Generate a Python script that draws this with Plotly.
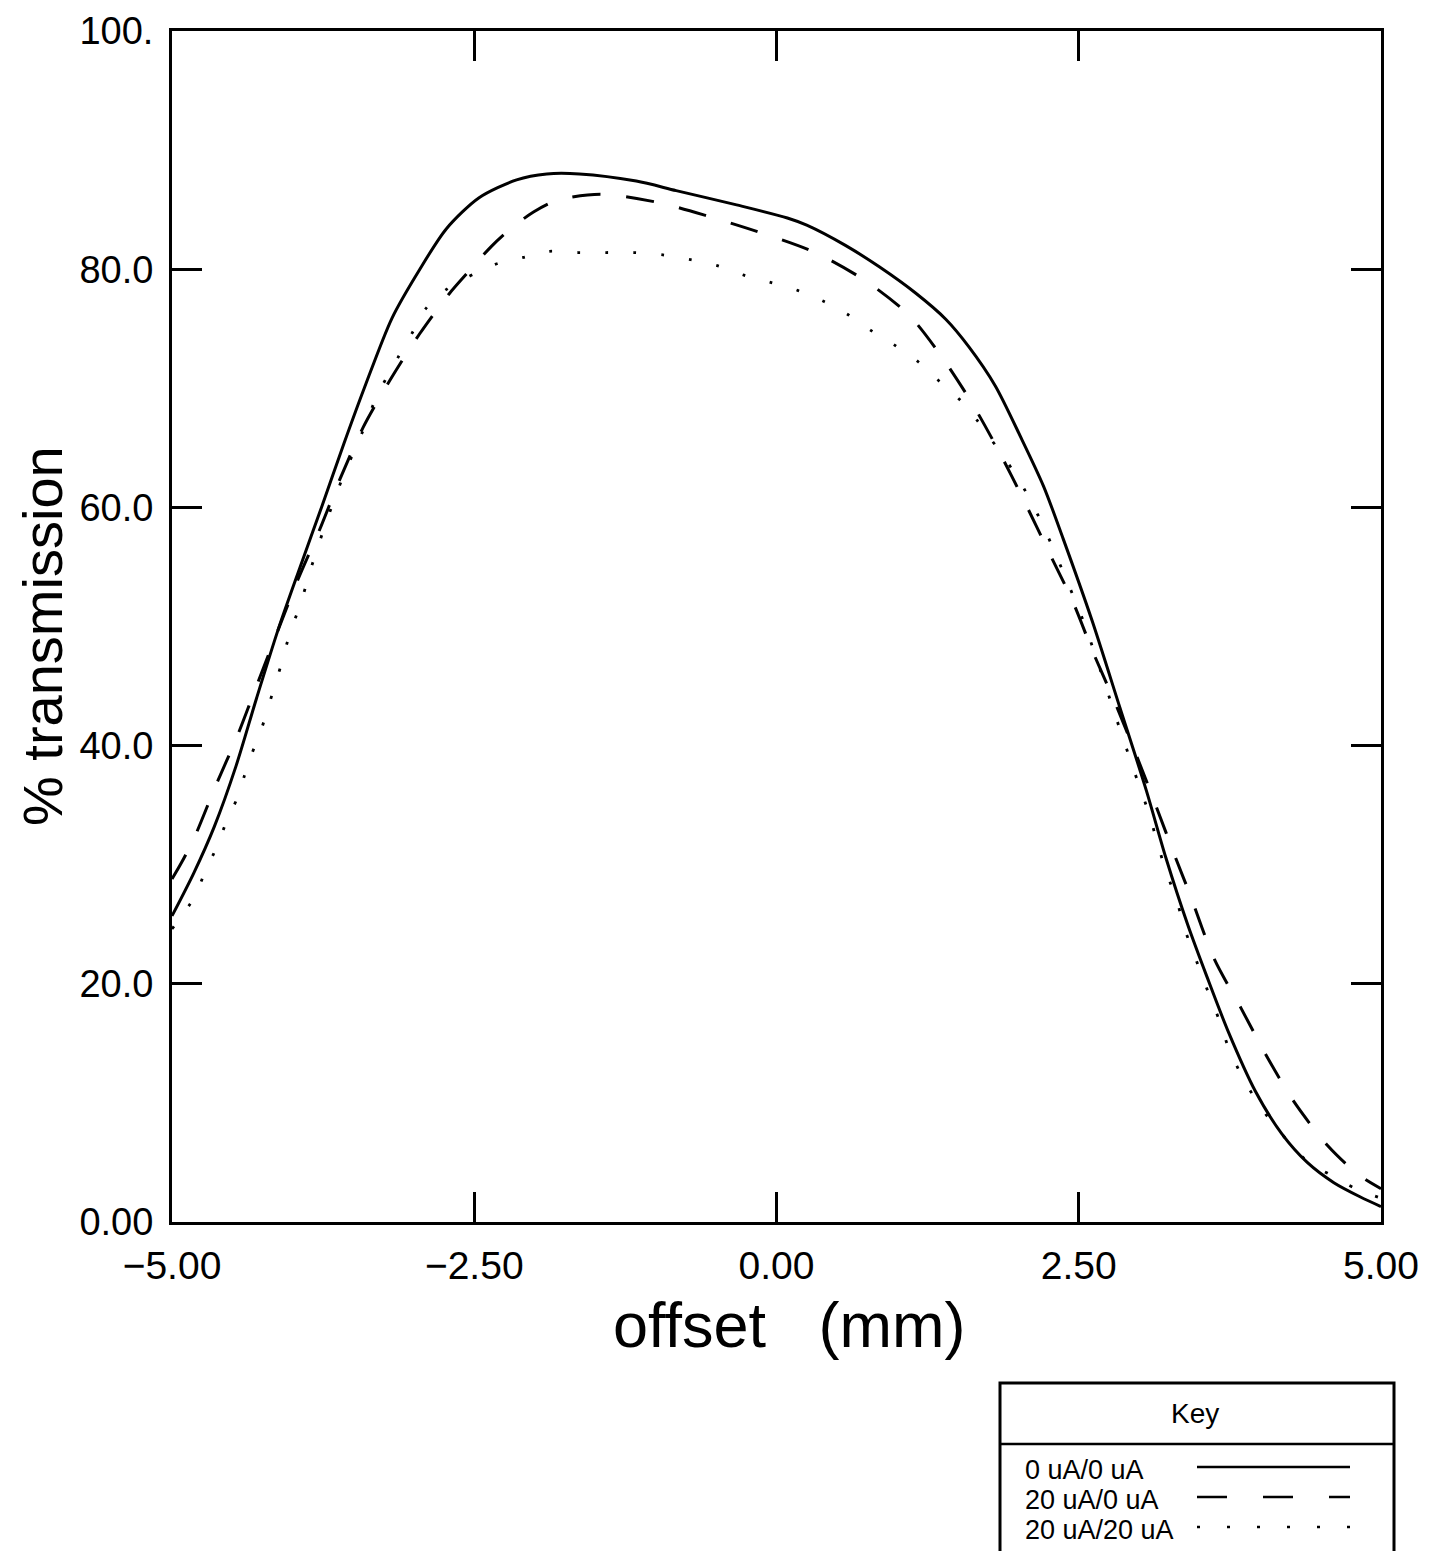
import plotly.graph_objects as go

# ---------------- data ----------------
series_names = ["0 uA/0 uA", "20 uA/0 uA", "20 uA/20 uA"]

x_solid = [-5.00, -4.82, -4.65, -4.47, -4.30, -4.12, -3.94, -3.76, -3.58, -3.41, -3.18,
           -2.95, -2.73, -2.46, -2.15, -1.90, -1.63, -1.16, -0.83, -0.33, 0.09, 0.25, 0.57,
           0.85, 1.15, 1.40, 1.59, 1.81, 2.02, 2.21, 2.37, 2.61, 2.84, 3.06, 3.22, 3.40,
           3.56, 3.74, 3.96, 4.18, 4.39, 4.61, 4.83, 5.00]
y_solid = [25.7, 29.3, 33.2, 38.3, 44.0, 49.8, 55.0, 60.1, 65.3, 70.0, 75.9,
           80.0, 83.4, 86.0, 87.5, 88.0, 88.0, 87.4, 86.6, 85.4, 84.3, 83.7, 82.0,
           80.2, 78.0, 75.8, 73.5, 70.2, 65.9, 61.75, 57.4, 50.5, 43.2, 36.2, 30.6, 25.0,
           20.6, 15.9, 11.0, 7.4, 5.0, 3.3, 2.1, 1.3]

x_dash = [-5.00, -4.92, -4.81, -4.64, -4.46, -4.29, -3.96, -3.78, -3.61, -3.42, -3.19, -2.95,
          -2.71, -2.52, -2.36, -2.21, -2.01, -1.81, -1.45, -0.98, -0.55, -0.11, 0.32, 0.74,
          1.10, 1.37, 1.62, 1.84, 2.05, 2.25, 2.45, 2.62, 2.80, 2.98, 3.14, 3.30, 3.42,
          3.62, 3.84, 4.05, 4.28, 4.56, 4.81, 5.00]
y_dash = [28.8, 30.2, 32.4, 36.6, 40.8, 45.3, 53.9, 58.1, 62.4, 66.7, 70.8, 74.6,
          77.9, 80.1, 81.9, 83.3, 84.8, 85.8, 86.3, 85.6, 84.4, 83.0, 81.4, 79.0,
          76.1, 72.6, 68.7, 64.7, 60.5, 56.3, 52.1, 47.8, 43.6, 39.1, 34.9, 30.6, 27.5,
          22.1, 18.0, 14.0, 10.1, 6.4, 4.0, 2.8]

x_dot = [-5.00, -4.82, -4.73, -4.63, -4.55, -4.46, -4.40, -4.34, -4.26, -4.19, -4.10, -4.02,
         -3.94, -3.85, -3.74, -3.60, -3.43, -3.30, -3.13, -3.01, -2.90, -2.73, -2.33, -2.09,
         -1.88, -1.64, -1.41, -1.18, -0.94, -0.71, -0.49, -0.27, -0.05, 0.18, 0.39, 0.59,
         0.79, 0.98, 1.17, 1.34, 1.51, 1.66, 2.00, 2.18, 2.36, 2.54, 2.68, 2.81, 2.95,
         3.08, 3.21, 3.31, 3.38, 3.46, 3.54, 3.66, 3.74, 3.84, 3.95, 4.08, 4.39, 4.58,
         4.79, 5.00]
y_dot = [24.6, 27.2, 29.3, 31.5, 33.6, 35.6, 37.5, 39.3, 41.4, 43.7, 46.7, 49.6,
         51.8, 54.9, 58.3, 62.2, 66.2, 69.45, 72.6, 74.7, 76.7, 78.3, 80.4, 81.0,
         81.5, 81.4, 81.4, 81.4, 81.2, 80.8, 80.3, 79.5, 78.9, 78.2, 77.3, 76.2,
         74.8, 73.6, 72.25, 70.65, 69.1, 67.3, 62.4, 59.0, 54.85, 50.4, 46.3, 42.3, 38.1,
         34.3, 29.8, 27.0, 24.5, 22.3, 20.1, 17.0, 14.6, 12.45, 10.5, 8.6, 5.1, 3.97,
         2.8, 2.0]

x_tickvals = [-5.0, -2.5, 0.0, 2.5, 5.0]
x_ticktext = ["\u22125.00", "\u22122.50", "0.00", "2.50", "5.00"]
y_tickvals = [0, 20, 40, 60, 80, 100]
y_ticktext = ["0.00", "20.0", "40.0", "60.0", "80.0", "100."]

x_title = "offset   (mm)"
y_title = "% transmission"
key_title = "Key"

# ---------------- figure ----------------
# Screen geometry (the page body adds an 8px offset)
OFF = 8
SCR_W, SCR_H = 1447, 1551
L, R, T, B = 172, 1381, 31, 1222
PW, PH = R - L, B - T


def px(x):
    return (x - L) / PW


def py(y):
    return (B - y) / PH


FONT = "Liberation Sans, Arial, sans-serif"

styles = [
    dict(color="black", width=3, dash="solid"),
    dict(color="black", width=3, dash="28px,26px"),
    dict(color="black", width=2.8, dash="3px,25px"),
]
legend_dash = ["solid", "30px,36px", "3px,27px"]

fig = go.Figure()
for name, xs, ys, st in zip(series_names, [x_solid, x_dash, x_dot], [y_solid, y_dash, y_dot], styles):
    fig.add_trace(go.Scatter(x=xs, y=ys, mode="lines", name=name,
                             line=dict(shape="spline", smoothing=0.8, **st),
                             showlegend=False))

axis_common = dict(showline=True, linecolor="black", linewidth=3, mirror="allticks",
                   ticks="inside", ticklen=30, tickwidth=2.5, tickcolor="black",
                   showgrid=False, zeroline=False, ticklabeloverflow="allow")

fig.update_xaxes(range=[-5, 5], tickvals=x_tickvals, ticktext=x_ticktext,
                 tickfont=dict(family=FONT, size=39, color="black"),
                 ticklabelstandoff=7, **axis_common)
fig.update_yaxes(range=[0, 100], tickvals=y_tickvals, ticktext=y_ticktext,
                 tickfont=dict(family=FONT, size=38, color="black"),
                 ticklabelstandoff=8, **axis_common)

annotations = [
    dict(text=y_title, x=px(42), y=py(636), xref="paper", yref="paper", showarrow=False,
         textangle=-90, xanchor="center", yanchor="middle",
         font=dict(family=FONT, size=56, color="black")),
    dict(text=x_title, x=px(789), y=py(1325), xref="paper", yref="paper", showarrow=False,
         xanchor="center", yanchor="middle",
         font=dict(family=FONT, size=63, color="black")),
    dict(text=key_title, x=px(1195), y=py(1413), xref="paper", yref="paper", showarrow=False,
         xanchor="center", yanchor="middle",
         font=dict(family=FONT, size=28, color="black")),
]

row_y = [1470, 1500, 1530]
for name, yy in zip(series_names, row_y):
    annotations.append(dict(text=name, x=px(1023), y=py(yy), xref="paper", yref="paper",
                            showarrow=False, xanchor="left", yanchor="middle",
                            font=dict(family=FONT, size=27, color="black")))

shapes = [
    dict(type="rect", xref="paper", yref="paper", x0=px(1000), x1=px(1394),
         y0=py(1383), y1=py(1600), line=dict(color="black", width=3)),
    dict(type="line", xref="paper", yref="paper", x0=px(1000), x1=px(1394),
         y0=py(1444), y1=py(1444), line=dict(color="black", width=2.5)),
]
for d, yy in zip(legend_dash, row_y):
    shapes.append(dict(type="line", xref="paper", yref="paper", x0=px(1197), x1=px(1350),
                       y0=py(yy - 3), y1=py(yy - 3),
                       line=dict(color="black", width=2.5, dash=d)))

fig.update_layout(width=SCR_W - OFF, height=SCR_H - OFF,
                  margin=dict(l=L - OFF, r=SCR_W - R, t=T - OFF, b=SCR_H - B, autoexpand=False),
                  paper_bgcolor="white", plot_bgcolor="white",
                  annotations=annotations, shapes=shapes, showlegend=False)

fig.write_html("out.html")
